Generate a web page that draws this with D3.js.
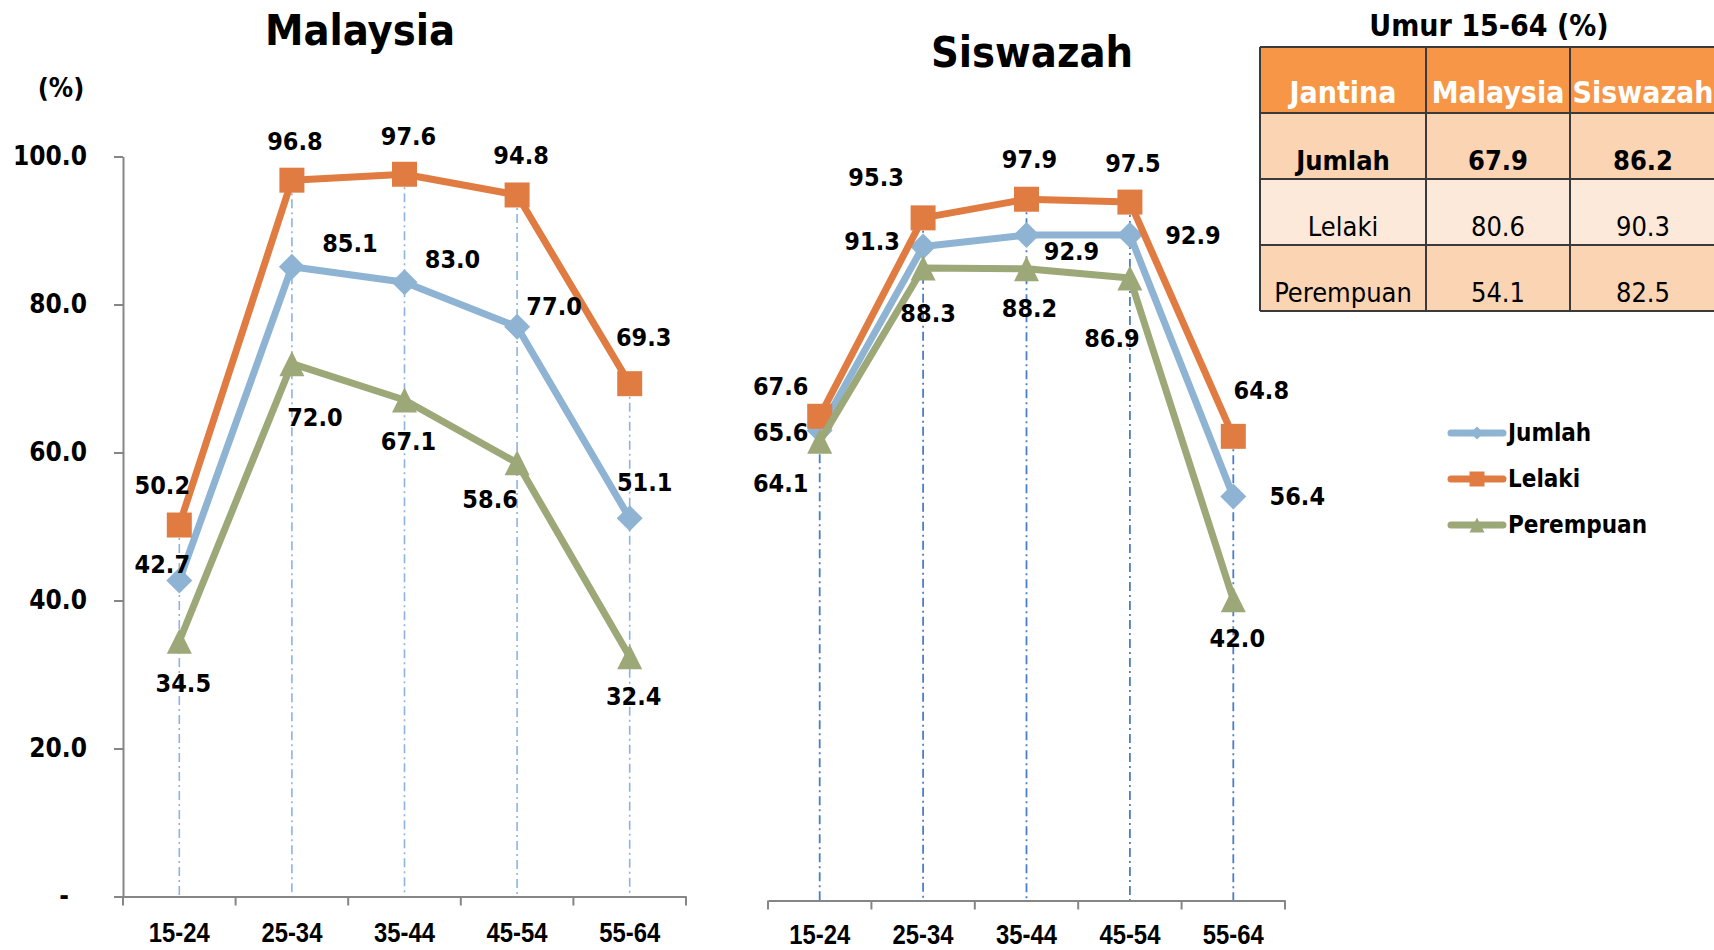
<!DOCTYPE html>
<html>
<head>
<meta charset="utf-8">
<script src="https://cdn.jsdelivr.net/npm/d3@7"></script>
<style>
  body { margin: 0; background: #fff; }
  svg { display: block; font-family: "DejaVu Sans Condensed", "DejaVu Sans", sans-serif; }
</style>
</head>
<body>
<svg id="chart" width="1714" height="950"></svg>
<script>
// ---- data ----
var ageGroups = ["15-24", "25-34", "35-44", "45-54", "55-64"];
var seriesNames = ["Jumlah", "Lelaki", "Perempuan"];

var malaysiaJumlah    = [42.7, 85.1, 83.0, 77.0, 51.1];
var malaysiaLelaki    = [50.2, 96.8, 97.6, 94.8, 69.3];
var malaysiaPerempuan = [34.5, 72.0, 67.1, 58.6, 32.4];

var siswazahJumlah    = [65.6, 91.3, 92.9, 92.9, 56.4];
var siswazahLelaki    = [67.6, 95.3, 97.9, 97.5, 64.8];
var siswazahPerempuan = [64.1, 88.3, 88.2, 86.9, 42.0];

var yTicks = [0, 20, 40, 60, 80, 100];

var tableTitle = "Umur 15-64 (%)";
var tableHeader = ["Jantina", "Malaysia", "Siswazah"];
var tableRows = ["Jumlah", "Lelaki", "Perempuan"];
var tableMalaysia = [67.9, 80.6, 54.1];
var tableSiswazah = [86.2, 90.3, 82.5];

// ---- styling / label placement ----
var colors = { Jumlah: "#8eb3d3", Lelaki: "#e07c42", Perempuan: "#9ca878" };
var condensed = "'DejaVu Sans Condensed', 'DejaVu Sans', sans-serif";

// label centre offsets from the marker, px
var malaysiaOffsets = {
  Jumlah:    [[-17, -16], [58, -23], [48, -23], [37, -20], [15, -36]],
  Lelaki:    [[-17, -40], [3, -39], [4, -38], [4, -39], [14, -46]],
  Perempuan: [[4, 42], [23, 54], [4, 42], [-27, 37], [4, 40]]
};
var siswazahOffsets = {
  Jumlah:    [[-39, 2], [-51, -5], [45, 16], [63, 0], [64, 0]],
  Lelaki:    [[-39, -30], [-47, -40], [3, -40], [3, -39], [28, -46]],
  Perempuan: [[-39, 42], [5, 45], [3, 40], [-18, 60], [4, 39]]
};

var svg = d3.select("#chart");

function markerPath(name, s) {
  if (name === "Lelaki") {
    return "M" + (-s) + "," + (-s) + "H" + s + "V" + s + "H" + (-s) + "Z";
  } else if (name === "Jumlah") {
    return "M0," + (-s) + "L" + s + ",0L0," + s + "L" + (-s) + ",0Z";
  }
  return "M0," + (-s) + "L" + s + "," + s + "H" + (-s) + "Z";
}

function drawPanel(opt) {
  var x = d3.scaleBand().domain(ageGroups).range(opt.xRange);
  var y = d3.scaleLinear().domain([0, 100]).range(opt.yRange);
  var cx = function(i) { return x(ageGroups[i]) + x.bandwidth() / 2; };
  var g = svg.append("g");

  // drop lines from the top marker to the axis
  var tops = ageGroups.map(function(c, i) {
    return d3.max(seriesNames, function(n) { return opt.data[n][i]; });
  });
  g.selectAll("line.drop").data(tops).enter().append("line")
    .attr("class", "drop")
    .attr("x1", function(d, i) { return cx(i); })
    .attr("x2", function(d, i) { return cx(i); })
    .attr("y1", function(d) { return y(d); })
    .attr("y2", y(0))
    .attr("stroke", opt.dropColor)
    .attr("stroke-width", opt.dropWidth)
    .attr("stroke-dasharray", "9,4,2,4");

  // x axis
  var xa = g.append("g")
    .attr("transform", "translate(0," + y(0) + ")")
    .call(d3.axisBottom(x).tickSize(0).tickPadding(opt.labelPad));
  xa.select(".domain").attr("stroke", "#868686").attr("stroke-width", 2);
  xa.selectAll("text")
    .attr("font-family", "'Liberation Sans', Arial, sans-serif")
    .attr("font-weight", "bold")
    .attr("font-size", 28)
    .attr("textLength", 61)
    .attr("lengthAdjust", "spacingAndGlyphs")
    .attr("fill", "#000");
  var bounds = ageGroups.map(function(c) { return x(c); }).concat([opt.xRange[1]]);
  xa.selectAll("line.btick").data(bounds).enter().append("line")
    .attr("class", "btick")
    .attr("x1", function(d) { return d; }).attr("x2", function(d) { return d; })
    .attr("y1", 0).attr("y2", 9)
    .attr("stroke", "#868686").attr("stroke-width", 2);

  if (opt.yAxis) {
    var ya = g.append("g")
      .attr("transform", "translate(" + opt.xRange[0] + ",0)")
      .call(d3.axisLeft(y).tickValues(yTicks).tickSize(9).tickSizeOuter(0).tickPadding(27)
        .tickFormat(function(d) { return d === 0 ? "-" : d3.format(".1f")(d); }));
    ya.select(".domain").attr("stroke", "#868686").attr("stroke-width", 2);
    ya.selectAll("line").attr("stroke", "#868686").attr("stroke-width", 2);
    ya.selectAll("text")
      .attr("font-family", condensed)
      .attr("font-weight", "bold")
      .attr("font-size", 26)
      .attr("fill", "#000")
      .attr("dx", function(d) { return d === 0 ? -18 : 0; });
  }

  // series lines, markers, labels
  var line = d3.line().x(function(d, i) { return cx(i); }).y(function(d) { return y(d); });
  seriesNames.forEach(function(n) {
    var vals = opt.data[n];
    g.append("path").datum(vals)
      .attr("d", line)
      .attr("fill", "none")
      .attr("stroke", colors[n])
      .attr("stroke-width", 7)
      .attr("stroke-linejoin", "round");
    g.selectAll("path.m-" + n).data(vals).enter().append("path")
      .attr("class", "m-" + n)
      .attr("transform", function(d, i) { return "translate(" + cx(i) + "," + y(d) + ")"; })
      .attr("d", markerPath(n, n === "Jumlah" ? 13 : 12.5))
      .attr("fill", colors[n]);
  });
  seriesNames.forEach(function(n) {
    var vals = opt.data[n];
    g.selectAll("text.l-" + n).data(vals).enter().append("text")
      .attr("class", "l-" + n)
      .attr("x", function(d, i) { return cx(i) + opt.offsets[n][i][0]; })
      .attr("y", function(d, i) { return y(d) + opt.offsets[n][i][1]; })
      .attr("text-anchor", "middle")
      .attr("dominant-baseline", "central")
      .attr("font-weight", "bold")
      .attr("font-size", 25)
      .attr("fill", "#000")
      .text(function(d) { return d3.format(".1f")(d); });
  });

  svg.append("text")
    .attr("x", opt.titleX).attr("y", opt.titleY)
    .attr("text-anchor", "middle")
    .attr("font-weight", "bold")
    .attr("font-size", 43)
    .text(opt.title);
}

drawPanel({
  title: "Malaysia", titleX: 360, titleY: 45,
  xRange: [123, 686], yRange: [896.5, 156.5],
  data: { Jumlah: malaysiaJumlah, Lelaki: malaysiaLelaki, Perempuan: malaysiaPerempuan },
  offsets: malaysiaOffsets,
  dropColor: "#8db3e2", dropWidth: 1.6,
  labelPad: 26, yAxis: true
});

drawPanel({
  title: "Siswazah", titleX: 1032, titleY: 67,
  xRange: [768, 1285], yRange: [900.5, 184.2],
  data: { Jumlah: siswazahJumlah, Lelaki: siswazahLelaki, Perempuan: siswazahPerempuan },
  offsets: siswazahOffsets,
  dropColor: "#4a7ec6", dropWidth: 1.8,
  labelPad: 24, yAxis: false
});

// "(%)" unit label
svg.append("text")
  .attr("x", 61).attr("y", 87)
  .attr("text-anchor", "middle").attr("dominant-baseline", "central")
  .attr("font-weight", "bold").attr("font-size", 27)
  .text("(%)");

// ---- legend ----
var legend = svg.append("g");
var ly = d3.scalePoint().domain(seriesNames).range([433, 525]);
seriesNames.forEach(function(n) {
  var row = legend.append("g").attr("transform", "translate(0," + ly(n) + ")");
  row.append("line")
    .attr("x1", 1451).attr("x2", 1503).attr("y1", 0).attr("y2", 0)
    .attr("stroke", colors[n]).attr("stroke-width", 7).attr("stroke-linecap", "round");
  row.append("path")
    .attr("transform", "translate(1477,0)")
    .attr("d", markerPath(n, n === "Jumlah" ? 6.5 : 7.5))
    .attr("fill", colors[n]);
  row.append("text")
    .attr("x", 1508).attr("y", 0)
    .attr("dominant-baseline", "central")
    .attr("font-weight", "bold").attr("font-size", 24)
    .text(n);
});

// ---- summary table ----
var tbl = svg.append("g");
var colEdges = [1260, 1426, 1570, 1716];
var colX = d3.scaleOrdinal().domain(tableHeader).range(colEdges.slice(0, 3));
var colW = function(c) { var k = tableHeader.indexOf(c); return colEdges[k + 1] - colEdges[k]; };
var rowY = d3.scaleBand().domain(["header"].concat(tableRows)).range([47, 311]);
var rowFill = { header: "#f79646", Jumlah: "#fbd4b4", Lelaki: "#fde9d9", Perempuan: "#fbd4b4" };

tbl.append("text")
  .attr("x", 1489).attr("y", 36)
  .attr("text-anchor", "middle")
  .attr("font-weight", "bold").attr("font-size", 30)
  .text(tableTitle);

rowY.domain().forEach(function(r) {
  var cells;
  if (r === "header") cells = tableHeader;
  else {
    var k = tableRows.indexOf(r);
    cells = [r, d3.format(".1f")(tableMalaysia[k]), d3.format(".1f")(tableSiswazah[k])];
  }
  tableHeader.forEach(function(c, ci) {
    tbl.append("rect")
      .attr("x", colX(c)).attr("y", rowY(r))
      .attr("width", colW(c)).attr("height", rowY.bandwidth())
      .attr("fill", rowFill[r]);
    tbl.append("text")
      .attr("x", colX(c) + colW(c) / 2)
      .attr("y", rowY(r) + rowY.bandwidth() - (r === "header" ? 10 : 9))
      .attr("text-anchor", "middle")
      .attr("font-weight", (r === "header" || r === "Jumlah") ? "bold" : "normal")
      .attr("font-size", r === "header" ? 30 : 27)
      .attr("fill", r === "header" ? "#fff" : "#000")
      .text(cells[ci]);
  });
});
// grid lines
rowY.domain().concat(["end"]).forEach(function(r) {
  var yy = r === "end" ? rowY.range()[1] : rowY(r);
  tbl.append("line")
    .attr("x1", colEdges[0]).attr("x2", colEdges[3])
    .attr("y1", yy).attr("y2", yy)
    .attr("stroke", "#3a3a3a").attr("stroke-width", 2);
});
colEdges.forEach(function(xx) {
  tbl.append("line")
    .attr("x1", xx).attr("x2", xx)
    .attr("y1", rowY.range()[0]).attr("y2", rowY.range()[1])
    .attr("stroke", "#3a3a3a").attr("stroke-width", 2);
});
</script>
</body>
</html>
